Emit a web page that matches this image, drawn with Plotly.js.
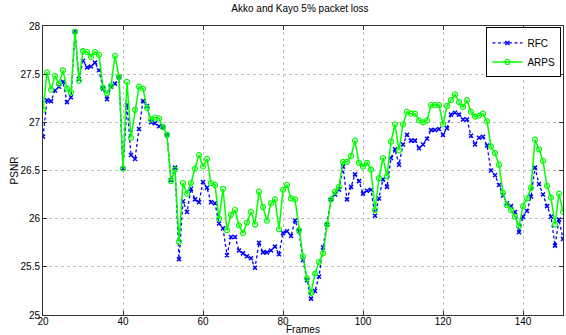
<!DOCTYPE html>
<html>
<head>
<meta charset="utf-8">
<script src="https://cdn.plot.ly/plotly-3.0.1.min.js"></script>
<style>html,body{margin:0;padding:0;background:#fff;}#chart{width:566px;height:335px;}</style>
</head>
<body>
<div id="chart"></div>
<script>
const frameStart = 20;
const frameEnd = 150;
const rfc = [26.85,27.23,27.22,27.33,27.37,27.42,27.21,27.26,27.94,27.45,
27.64,27.57,27.58,27.62,27.54,27.35,27.24,27.37,27.40,27.47,
26.52,27.18,26.66,26.62,26.93,27.22,27.17,27.00,26.99,26.96,
26.95,26.87,26.40,26.53,25.58,26.18,26.07,26.31,26.20,26.17,
26.38,26.32,26.17,26.16,25.95,25.90,25.62,25.81,25.81,25.67,
25.64,25.61,25.59,25.49,25.75,25.65,25.65,25.67,25.71,25.63,
25.85,25.87,25.82,25.98,25.87,25.57,25.36,25.17,25.25,25.40,
25.70,25.94,26.20,26.25,26.30,26.54,26.20,26.33,26.46,26.39,
26.26,26.29,26.30,26.03,26.21,26.41,26.33,26.63,26.72,26.56,
26.77,26.87,26.81,26.81,26.73,26.77,26.83,26.92,26.92,26.93,
26.87,26.94,27.08,27.10,27.08,27.03,27.03,26.86,26.77,26.84,
26.85,26.76,26.50,26.45,26.35,26.24,26.16,26.13,26.07,25.86,
26.02,26.08,26.23,26.53,26.36,26.25,26.13,26.02,25.72,25.99,
25.79];
const arps = [27.13,27.52,27.34,27.48,27.40,27.54,27.35,27.31,27.94,27.43,
27.74,27.73,27.68,27.73,27.70,27.36,27.30,27.38,27.69,27.47,
26.52,27.42,26.84,27.13,27.37,27.35,27.15,27.03,27.05,27.04,
26.95,26.87,26.39,26.51,25.76,26.37,26.26,26.37,26.52,26.66,
26.54,26.62,26.37,26.35,26.00,26.31,25.88,26.04,26.09,25.93,
25.85,25.96,26.07,25.94,26.28,26.12,25.98,26.16,26.20,25.89,
26.30,26.35,26.21,26.20,25.88,25.61,25.38,25.23,25.43,25.55,
25.64,25.94,26.20,26.28,26.33,26.59,26.59,26.65,26.81,26.58,
26.54,26.58,26.51,26.09,26.42,26.63,26.44,26.80,26.98,26.71,
26.98,27.11,27.09,27.09,27.02,27.00,27.02,27.18,27.18,27.18,
26.98,27.17,27.23,27.29,27.21,27.16,27.23,27.11,27.06,27.07,
27.09,27.01,26.75,26.68,26.56,26.27,26.14,26.09,26.02,25.92,
26.13,26.21,26.32,26.82,26.72,26.60,26.34,26.22,25.94,26.26,
26.07];
const xTickVals = [20,40,60,80,100,120,140];
const yTickVals = [25,25.5,26,26.5,27,27.5,28];
const yTickText = ["25","25.5","26","26.5","27","27.5","28"];

const frames = [];
for (let f = frameStart; f <= frameEnd; f++) frames.push(f);

const traces = [
  {x: frames, y: rfc, name: 'RFC', type: 'scatter', mode: 'lines+markers',
   line: {color: '#0000ff', width: 1.3, dash: '3px,2.5px'},
   marker: {symbol: 'x-thin-open', size: 4, color: '#0000ff', line: {color: '#0000ff', width: 1.5}}},
  {x: frames, y: arps, name: 'ARPS', type: 'scatter', mode: 'lines+markers',
   line: {color: '#00ff00', width: 1.5},
   marker: {symbol: 'circle-open', size: 5, color: '#00ff00', line: {color: '#00ff00', width: 1.2}}}
];

const axisCommon = {
  showgrid: true, gridcolor: '#bdbdbd', griddash: 'dot', gridwidth: 1,
  showline: true, linecolor: '#333333', linewidth: 1, mirror: 'ticks',
  ticks: 'inside', ticklen: 4, tickcolor: '#333333', zeroline: false,
  tickfont: {family: 'Liberation Sans, Arial, sans-serif', size: 10, color: '#000'}
};

const layout = {
  width: 566, height: 335,
  margin: {l: 43, r: 3, t: 26, b: 20},
  paper_bgcolor: '#fff', plot_bgcolor: '#fff',
  font: {family: 'Liberation Sans, Arial, sans-serif', size: 10, color: '#000'},
  title: {text: 'Akko and Kayo 5% packet loss', font: {size: 10}, x: 0.53, xanchor: 'center', y: 0.975, yanchor: 'middle'},
  xaxis: Object.assign({}, axisCommon, {range: [20, 150], tickvals: xTickVals, ticklabelstandoff: -3}),
  yaxis: Object.assign({}, axisCommon, {range: [25, 28], tickvals: yTickVals, ticktext: yTickText,
    title: {text: 'PSNR', font: {size: 10}, standoff: 0}}),
  annotations: [{text: 'Frames', xref: 'paper', yref: 'paper', x: 0.5, y: -0.049,
    xanchor: 'center', yanchor: 'middle', showarrow: false, font: {size: 10}}],
  showlegend: true,
  legend: {x: 0.997, y: 0.995, xanchor: 'right', yanchor: 'top', bgcolor: '#fff',
    bordercolor: '#000', borderwidth: 1, font: {size: 10}, tracegroupgap: 0,
    itemwidth: 30}
};

Plotly.newPlot('chart', traces, layout, {displayModeBar: false, staticPlot: true});
</script>
</body>
</html>
